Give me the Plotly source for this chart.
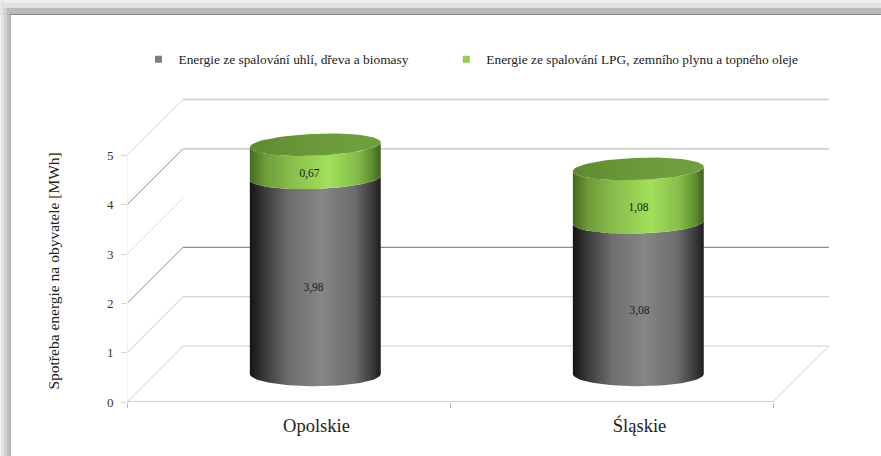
import numpy as np
import plotly.graph_objects as go

categories = ["Opolskie", "Śląskie"]
series_names = ["Energie ze spalování uhlí, dřeva a biomasy",
                "Energie ze spalování LPG, zemního plynu a topného oleje"]
coal_values = [3.98, 3.08]
gas_values = [0.67, 1.08]
y_ticks = [0, 1, 2, 3, 4, 5]

FONT = "Liberation Serif"
# plot rectangle in pixels
L, R, T, B = 126.5, 830.0, 95.0, 402.0
W, H = 881, 456
PX_X = 323.25   # px per category
PX_Y = 49.3     # px per MWh
DX, DY = 56 / PX_X, 56 / PX_Y  # depth of the fake 3D box
x_max = (R - L) / PX_X
y_max = (B - T) / PX_Y
A = 65.5 / PX_X                # cylinder half width
TILT = 0.0109

centers = [i + 0.5 + DX / 2 for i in range(len(categories))]
body_centers = [c - 1.2 / PX_X for c in centers]
base_y = DY / 2

grey_scale = [[0, "#141414"], [0.12, "#3c3c3c"], [0.3, "#6e6e6e"], [0.55, "#868686"],
              [0.8, "#6c6c6c"], [0.93, "#3c3c3c"], [1, "#1e1e1e"]]
green_scale = [[0, "#47691f"], [0.12, "#6f9c3c"], [0.3, "#86bb4a"], [0.6, "#a2e05a"],
               [0.82, "#84bc4a"], [0.94, "#5d8a2e"], [1, "#3f6020"]]
cap_scale = [[0, "#5c8a30"], [0.5, "#6c9a3a"], [1, "#70a03e"]]
# per level: colour of the diagonal, colour and width of the back wall line
diag_colors = ["#d0d0d0", "#c4c4c4", "#8c8c8c", "#dddddd", "#8c8c8c", "#d0d0d0"]
back_colors = ["#d0d0d0", "#c8c8c8", "#8e8e8e", None, "#d2d2d2", "#d6d6d6"]
back_widths = [1.1, 1.1, 1.1, 0, 1.8, 1.8]
# per category: horizontal nudge of the two data labels, px
label_nudges = [(-3, -7), (0, -1)]

fig = go.Figure()


def line(xs, ys, color, width=1.0):
    fig.add_trace(go.Scatter(x=xs, y=ys, mode="lines", showlegend=False, hoverinfo="skip",
                             cliponaxis=False, line=dict(color=color, width=width)))


for lvl, dc, bc, bw in zip(y_ticks, diag_colors, back_colors, back_widths):
    line([0, DX], [lvl, lvl + DY], dc)
    if bc:
        line([DX, 2 + DX], [lvl + DY, lvl + DY], bc, bw)

# floor edges and axis lines
line([0, 0], [0, 5], "#e6e6e6")
line([0, 2], [0, 0], "#bdbdbd", 1.3)
line([2, 2 + DX], [0, DY], "#cfcfcf")


def ry(v):
    return (12.2 - 1.2 * v / 4.65) / PX_Y


def ring(cx, v, t0, t1, n=60):
    th = np.linspace(t0, t1, n)
    xs = cx + A * np.cos(th)
    ys = base_y + v + ry(v) * np.sin(th) + TILT * v * np.cos(th)
    return xs, ys


def body(cx, v0, v1, scale):
    x0, y0 = ring(cx, v0, np.pi, 2 * np.pi)
    x1, y1 = ring(cx, v1, 2 * np.pi, np.pi)
    fig.add_trace(go.Scatter(
        x=np.r_[x0, x1, x0[0]], y=np.r_[y0, y1, y0[0]], mode="lines", fill="toself",
        line=dict(width=0), showlegend=False, hoverinfo="skip", cliponaxis=False,
        fillgradient=dict(type="horizontal", colorscale=scale)))


for cx, c, g in zip(body_centers, coal_values, gas_values):
    body(cx, 0, c, grey_scale)
    body(cx, c, c + g, green_scale)
    xs, ys = ring(cx, c + g, 0, 2 * np.pi, 90)
    fig.add_trace(go.Scatter(
        x=xs, y=ys, mode="lines", fill="toself", line=dict(width=0), showlegend=False,
        hoverinfo="skip", fillgradient=dict(type="horizontal", colorscale=cap_scale)))

# data labels
LABEL_DROP = 0.255
lx, ly, lt = [], [], []
for cx, c, g, (n0, n1) in zip(centers, coal_values, gas_values, label_nudges):
    lx += [cx + n0 / PX_X, cx + n1 / PX_X]
    ly += [base_y + c / 2 - LABEL_DROP, base_y + c + g / 2 - LABEL_DROP]
    lt += [f"{c:.2f}".replace(".", ","), f"{g:.2f}".replace(".", ",")]
fig.add_trace(go.Scatter(x=lx, y=ly, text=lt, mode="text", showlegend=False, hoverinfo="skip",
                         textposition="middle center", textfont=dict(family=FONT, size=11.5, color="#1a1a1a")))

# legend entries, each in its own legend so that they can be placed separately
for name, col, leg in zip(series_names, ["#7f7f7f", "#92d050"], ["legend", "legend2"]):
    fig.add_trace(go.Scatter(x=[None], y=[None], mode="markers", name=name, legend=leg,
                             marker=dict(symbol="square", size=7, color=col)))

px = lambda x: (x - L) / (R - L)
py = lambda y: (B - y) / (B - T)
shapes = []
for x0, y0, x1, y1, col in [
    (0, 0, W, 3, "#eeeeee"), (0, 3, W, 8, "#e2e2e2"), (0, 8, W, 14, "#b9b9b9"), (0, 14, W, 15, "#8a8a8a"),
    (0, 0, 3, H, "#e4e4e4"), (3, 8, 6, H, "#d2d2d2"), (6, 8, 9, H, "#bcbcbc"), (9, 14, 10, H, "#8a8a8a"),
]:
    shapes.append(dict(type="rect", xref="paper", yref="paper", x0=px(x0), x1=px(x1), y0=py(y0), y1=py(y1),
                       fillcolor=col, line_width=0, layer="below"))

legend_style = dict(orientation="h", xanchor="left", yanchor="top", font=dict(size=13.4, color="#222222"),
                    bgcolor="rgba(0,0,0,0)", itemsizing="trace")

fig.update_layout(
    width=W, height=H, autosize=False,
    margin=dict(l=L, r=W - R, t=T, b=H - B, pad=0),
    paper_bgcolor="white", plot_bgcolor="rgba(0,0,0,0)",
    font=dict(family=FONT, color="#222222"),
    shapes=shapes,
    xaxis=dict(range=[0, x_max], tickvals=centers, ticktext=categories, ticks="", showgrid=False, zeroline=False,
               showline=False, tickfont=dict(size=18.5, color="#222222"), ticklabelstandoff=10,
               minor=dict(tickvals=[0, 1, 2], ticks="outside", ticklen=5, tickcolor="#bdbdbd", tickwidth=1, showgrid=False)),
    yaxis=dict(range=[0, y_max], tickvals=y_ticks, ticks="outside", ticklen=5, tickcolor="#d0d0d0", tickwidth=1,
               showgrid=False, zeroline=False, showline=False, tickfont=dict(size=13, color="#333333"),
               ticklabelstandoff=5),
    legend=dict(x=px(138), y=py(44), **legend_style),
    legend2=dict(x=px(446), y=py(44), **legend_style),
    annotations=[dict(text="Spotřeba energie na obyvatele [MWh]", xref="paper", yref="paper",
                      x=px(52), y=py(271), xanchor="center", yanchor="middle", textangle=-90, showarrow=False,
                      font=dict(size=15.5, color="#222222"))],
)
fig.write_html("out.html", config=dict(displayModeBar=False),
               post_script="document.body.style.margin='0';document.body.style.overflow='hidden';")
